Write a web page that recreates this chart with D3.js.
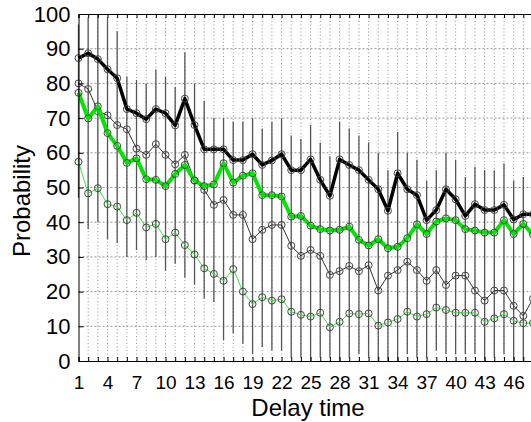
<!DOCTYPE html>
<html>
<head>
<meta charset="utf-8">
<script src="https://cdn.jsdelivr.net/npm/d3@7"></script>
<style>
  body { margin: 0; background: #fff; }
  svg { display: block; font-family: "Liberation Sans", Arial, sans-serif; }
</style>
</head>
<body>
<svg id="chart" width="531" height="422"></svg>
<script>
// Data
const delay = [1,2,3,4,5,6,7,8,9,10,11,12,13,14,15,16,17,18,19,20,21,22,23,24,
               25,26,27,28,29,30,31,32,33,34,35,36,37,38,39,40,41,42,43,44,45,46,47,48];
const thickBlack = [87.3,88.7,87.0,84.1,81.5,72.6,71.4,69.7,72.6,71.4,67.9,75.6,68.0,61.0,61.0,61.0,
                    57.9,57.9,59.6,56.5,57.8,59.6,55.0,55.0,58.1,52.2,47.6,58.1,56.5,55.0,52.2,49.5,
                    43.3,54.1,49.5,47.8,40.6,43.5,49.5,46.6,41.8,45.2,43.5,43.5,45.0,40.8,42.3,42.3];
const thickGreen = [77.3,69.9,73.4,65.7,62.0,57.1,58.4,52.4,52.2,50.4,53.9,56.5,52.0,50.4,50.9,57.0,
                    51.4,53.4,54.1,47.8,47.8,47.4,41.6,41.8,39.0,38.0,37.6,37.8,38.7,34.9,33.3,35.1,
                    32.5,32.9,35.4,39.4,36.6,40.2,41.1,40.6,38.0,37.6,37.0,37.0,40.6,36.6,39.5,36.4];
const thinBlack  = [80.0,78.4,72.0,70.8,68.0,66.8,61.2,59.4,62.5,59.4,56.7,59.4,52.0,49.3,45.0,46.4,
                    42.1,42.1,35.1,37.8,39.2,39.2,33.2,30.3,32.0,30.3,24.8,25.9,27.4,25.9,27.6,20.3,
                    24.6,26.2,28.6,26.2,23.1,26.2,21.9,24.6,24.6,20.3,17.4,20.3,20.3,15.9,13.0,18.0];
const thinGreen  = [57.4,48.3,49.8,45.2,44.5,40.6,42.7,38.5,39.5,35.1,37.0,33.4,30.7,26.7,25.1,23.1,
                    26.5,20.0,16.4,18.4,17.4,17.8,14.2,13.3,12.8,13.9,9.7,11.3,13.7,13.5,13.7,10.2,
                    11.1,12.1,14.2,12.8,13.5,15.4,14.7,13.9,13.9,13.9,11.3,12.3,13.5,11.6,10.9,11.0];
// vertical extent of the error bars at each delay
const errTop    = [97,99,100,99,95,82,81,80,84,82,79,89,80,75,70,70,69,69,70,67,69,70,65,64,
                   68,63,59,69,67,65,63,60,55,66,60,58,52,55,60,58,53,56,55,55,57,52,53,53];
const errBottom = [47,38,40,35,34,30,32,29,30,26,28,24,22,18,17,6,8,5,2,4,3,3,1,1,
                   0,1,1,0,1,2,1,0,0,0,2,1,1,3,2,2,2,2,0,1,2,0,0,0];
const xTickLabels = [1,4,7,10,13,16,19,22,25,28,31,34,37,40,43,46];
const yTickLabels = [0,10,20,30,40,50,60,70,80,90,100];

const svg = d3.select("#chart");
const plotLeft = 78.5, plotTop = 14, plotBottom = 361, unit = 9.67;

const x = d3.scaleLinear().domain([1, 50]).range([plotLeft, plotLeft + unit * 49]);
const y = d3.scaleLinear().domain([0, 100]).range([plotBottom, plotTop]);

// grid
const grid = svg.append("g");
grid.selectAll(".vg").data(d3.range(2, 50)).enter().append("line")
    .attr("x1", d => x(d)).attr("x2", d => x(d)).attr("y1", plotTop).attr("y2", plotBottom)
    .attr("stroke", "#777").attr("stroke-width", 0.8).attr("stroke-dasharray", "1,2.5");
grid.selectAll(".hg").data(yTickLabels.slice(1, -1)).enter().append("line")
    .attr("x1", plotLeft).attr("x2", 531).attr("y1", d => y(d)).attr("y2", d => y(d))
    .attr("stroke", "#777").attr("stroke-width", 0.8).attr("stroke-dasharray", "2,2");

// error bars
svg.append("g").selectAll("line").data(delay).enter().append("line")
    .attr("x1", d => x(d)).attr("x2", d => x(d))
    .attr("y1", (d, i) => y(errTop[i])).attr("y2", (d, i) => y(errBottom[i]))
    .attr("stroke", "#555").attr("stroke-width", 1.3);

// series
const series = [
  { values: thinGreen,  color: "#3ce03c", width: 1 },
  { values: thinBlack,  color: "#333",    width: 1 },
  { values: thickGreen, color: "#00e600", width: 4 },
  { values: thickBlack, color: "#000",    width: 3.5 }
];
const line = d3.line().x((d, i) => x(delay[i])).y(d => y(d));

series.forEach(s => {
  const g = svg.append("g");
  g.append("path").datum(s.values).attr("d", line)
   .attr("fill", "none").attr("stroke", s.color).attr("stroke-width", s.width)
   .attr("stroke-linejoin", "round");
  g.selectAll("circle").data(s.values).enter().append("circle")
   .attr("cx", (d, i) => x(delay[i])).attr("cy", d => y(d)).attr("r", 3.5)
   .attr("fill", "none").attr("stroke", "#444").attr("stroke-width", 1);
});

// axes
const xAxis = svg.append("g").attr("transform", `translate(0,${plotBottom})`)
  .call(d3.axisBottom(x).tickValues(d3.range(1, 50)).tickSize(-4).tickPadding(15)
        .tickFormat(d => xTickLabels.includes(d) ? d : ""));
const xTop = svg.append("g").attr("transform", `translate(0,${plotTop})`)
  .call(d3.axisTop(x).tickValues(d3.range(1, 50)).tickSize(-4).tickFormat(""));
const yAxis = svg.append("g").attr("transform", `translate(${plotLeft},0)`)
  .call(d3.axisLeft(y).tickValues(yTickLabels).tickSize(-5).tickPadding(8));

[xAxis, xTop, yAxis].forEach(a => {
  a.select(".domain").attr("stroke", "#000").attr("stroke-width", 1);
  a.selectAll(".tick line").attr("stroke", "#000");
  a.selectAll("text").attr("fill", "#000").style("font-size", "19px");
});
yAxis.selectAll("text").style("font-size", "22px");

svg.append("text").attr("x", 308).attr("y", 416).attr("text-anchor", "middle")
   .style("font-size", "24px").text("Delay time");
svg.append("text").attr("transform", "translate(30,201) rotate(-90)").attr("text-anchor", "middle")
   .style("font-size", "24px").text("Probability");
</script>
</body>
</html>
